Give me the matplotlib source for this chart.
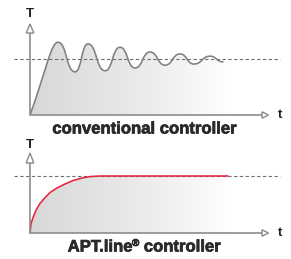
import numpy as np
import matplotlib
matplotlib.use("Agg")
import matplotlib.pyplot as plt
import matplotlib.patheffects as pe
from matplotlib.path import Path
from matplotlib.patches import PathPatch, Polygon

# ---- data ----
# conventional controller: start, then alternating peaks/troughs (t, T), setpoint T=1
conv_t = [0.0, 2.8, 4.5, 5.8, 7.5, 9.0, 10.5, 12.0, 13.5, 15.0, 16.4, 18.0, 19.3]
conv_T = [0.0, 1.30, 0.77, 1.27, 0.79, 1.21, 0.84, 1.125, 0.89, 1.09, 0.91, 1.05, 0.95]
# APT.line controller: smooth approach to setpoint
apt_t = [0.0, 0.1, 0.3, 0.6, 1.0, 1.5, 2.0, 2.7, 3.5, 4.3, 5.2, 6.0, 7.0, 19.8]
apt_T = [0.0, 0.16, 0.27, 0.40, 0.52, 0.62, 0.71, 0.79, 0.86, 0.92, 0.965, 0.99, 1.0, 1.0]
setpoint = 1.0
title_top = "conventional controller"
title_bottom = ["APT.line", "®", " controller"]
axis_labels = ("T", "t")

W, H = 291, 259
fig = plt.figure(figsize=(W / 100, H / 100), dpi=100)
fig.patch.set_facecolor("white")

AX_COL = "#8c8c8c"
TXT_COL = "#1e1e1e"
FONT = "Liberation Sans"


def add_panel(top_px, bottom_px, base_px, unit_px):
    ax = fig.add_axes([10 / W, 1 - bottom_px / H, 280 / W, (bottom_px - top_px) / H])
    ax.set_xlim((10 - 30) / 10, (290 - 30) / 10)
    ax.set_ylim((base_px - bottom_px) / unit_px, (base_px - top_px) / unit_px)
    ax.axis("off")
    return ax


def extrema_path(ts, Ts, k=0.52):
    verts = [(ts[0], Ts[0])]
    codes = [Path.MOVETO]
    for i in range(1, len(ts)):
        dx = ts[i] - ts[i - 1]
        if i == 1:
            c1 = (ts[0] + 0.57 * dx, Ts[0] + 0.6 * Ts[1])
            c2 = (ts[1] - 0.25 * dx, Ts[1])
        else:
            c1 = (ts[i - 1] + k * dx, Ts[i - 1])
            c2 = (ts[i] - k * dx, Ts[i])
        verts += [c1, c2, (ts[i], Ts[i])]
        codes += [Path.CURVE4] * 3
    return verts, codes


def line_path(ts, Ts):
    verts = list(zip(ts, Ts))
    codes = [Path.MOVETO] + [Path.LINETO] * (len(verts) - 1)
    return verts, codes


def draw_panel(ax, verts, codes, color, unit_px, ytip_px, ybase_px, base_px, label_px, xend):
    end_T = verts[-1][1]
    fv = verts + [(23.0, end_T), (23.0, 0), (0, 0), (0, 0)]
    fc = codes + [Path.LINETO, Path.LINETO, Path.LINETO, Path.CLOSEPOLY]
    fill = PathPatch(Path(fv, fc), facecolor="none", edgecolor="none")
    ax.add_patch(fill)
    grad = np.linspace(0, 1, 256).reshape(1, -1)
    cmap = matplotlib.colors.LinearSegmentedColormap.from_list(
        "g", [(0.0, "#d8d8d8"), (0.45, "#e9e9e9"), (0.88, "#ffffff"), (1.0, "#ffffff")])
    im = ax.imshow(grad, extent=[0, 23, 0, 1.5], cmap=cmap, aspect="auto",
                   origin="lower", zorder=1, interpolation="bicubic")
    im.set_clip_path(fill)

    ax.plot([-1.6, 25.0], [setpoint, setpoint], color="#6e6e6e", lw=0.8,
            dashes=(3.0, 2.2), zorder=2)

    ax.add_patch(PathPatch(Path(verts, codes), facecolor="none", edgecolor=color,
                           lw=1.15, zorder=3, capstyle="round", joinstyle="round"))

    ytip = (base_px - ytip_px) / unit_px
    ybase = (base_px - ybase_px) / unit_px
    ax.plot([0, 0], [0, ybase], color=AX_COL, lw=1.2, zorder=4, solid_capstyle="butt")
    ax.plot([0, xend], [0, 0], color=AX_COL, lw=1.2, zorder=4, solid_capstyle="butt")
    ax.add_patch(Polygon([(-0.38, ybase), (0.38, ybase), (0, ytip)], closed=True,
                         facecolor="white", edgecolor=AX_COL, lw=1.0, zorder=5))
    hh = 3.2 / unit_px
    ax.add_patch(Polygon([(xend, -hh), (xend, hh), (xend + 0.65, 0)], closed=True,
                         facecolor="white", edgecolor=AX_COL, lw=1.0, zorder=5))
    ax.text(0, (base_px - label_px) / unit_px, axis_labels[0], ha="center", va="center",
            fontsize=9.5, fontweight="bold", color=TXT_COL, family=FONT)
    ax.text(25.0, 0, axis_labels[1], ha="center", va="center", fontsize=9.5,
            color=TXT_COL, family=FONT, fontweight="bold")


ax1 = add_panel(5, 120, 115, 56)
v, c = extrema_path(conv_t, conv_T)
draw_panel(ax1, v, c, "#808080", 56, 24, 33, 115, 14, 23.2)

ax2 = add_panel(125, 238, 233, 57)
v, c = line_path(apt_t, apt_T)
draw_panel(ax2, v, c, "#e4283a", 57, 153, 163, 233, 145, 23.2)

effects = [pe.withStroke(linewidth=0.5, foreground="#2a2a2a")]
TS = 12
fig.text(144 / W, 1 - 129 / H, title_top, ha="center", va="center", fontsize=TS,
         fontweight="bold", color="#2a2a2a", family=FONT, path_effects=effects)

# bottom title: "APT.line" + superscript "®" + " controller", centred as a whole
renderer = fig.canvas.get_renderer()
ypx = 247
parts = []
sizes = [TS, TS * 0.6, TS]
for txt, sz in zip(title_bottom, sizes):
    t = fig.text(0, 0, txt, ha="left", va="baseline", fontsize=sz, fontweight="bold",
                 color="#2a2a2a", family=FONT, path_effects=effects)
    parts.append(t)
widths = [p.get_window_extent(renderer).width for p in parts]
total = sum(widths)
x = 144 - total / 2
base_y = ypx + 4.5
for p, w, sz in zip(parts, widths, sizes):
    yy = base_y - (5.5 if sz < TS else 0)
    p.set_position((x / W, 1 - yy / H))
    x += w

fig.savefig("out.png", dpi=100, facecolor="white")
